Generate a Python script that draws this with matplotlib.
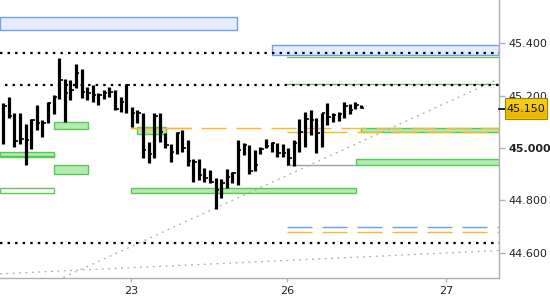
import matplotlib
matplotlib.use("Agg")
import matplotlib.pyplot as plt
from matplotlib.patches import Rectangle
import matplotlib.transforms as mtransforms

# ---------------- data ----------------
highs = [45.173, 45.196, 45.135, 45.135, 45.092, 45.111, 45.164, 45.107, 45.177, 45.203,
         45.343, 45.262, 45.260, 45.321, 45.302, 45.234, 45.241, 45.211, 45.222, 45.234,
         45.222, 45.196, 45.243, 45.156, 45.145, 45.135, 45.024, 45.133, 45.133, 45.056,
         45.014, 45.060, 45.069, 45.031, 44.958, 44.958, 44.922, 44.916, 44.884, 44.882,
         44.920, 44.907, 45.031, 45.018, 45.011, 44.992, 45.005, 45.033, 45.024, 45.020,
         45.015, 44.999, 45.031, 45.110, 45.136, 45.145, 45.113, 45.135, 45.171, 45.135,
         45.136, 45.175, 45.167, 45.175, 45.164]
lows = [45.015, 45.116, 45.005, 45.015, 44.935, 44.996, 45.069, 45.043, 45.097, 45.130,
        45.187, 45.100, 45.183, 45.228, 45.192, 45.183, 45.177, 45.164, 45.187, 45.196,
        45.145, 45.139, 45.133, 45.081, 45.094, 44.963, 44.944, 44.961, 45.024, 44.999,
        44.948, 44.977, 44.984, 44.929, 44.871, 44.878, 44.869, 44.865, 44.767, 44.810,
        44.846, 44.865, 44.859, 44.973, 44.901, 44.910, 44.977, 44.999, 44.986, 44.965,
        44.965, 44.935, 44.929, 44.986, 45.005, 45.050, 44.982, 45.005, 45.088, 45.100,
        45.103, 45.116, 45.129, 45.148, 45.152]
closes = [45.160, 45.122, 45.028, 45.033, 45.031, 45.107, 45.097, 45.097, 45.173, 45.196,
          45.260, 45.209, 45.222, 45.288, 45.215, 45.209, 45.203, 45.203, 45.209, 45.215,
          45.148, 45.177, 45.241, 45.133, 45.133, 44.992, 44.977, 45.120, 45.062, 45.011,
          44.984, 45.056, 45.001, 44.950, 44.945, 44.897, 44.884, 44.871, 44.840, 44.865,
          44.887, 44.903, 44.992, 45.011, 44.913, 44.935, 44.996, 45.008, 45.018, 44.981,
          44.981, 44.962, 45.020, 45.062, 45.110, 45.107, 45.056, 45.133, 45.118, 45.126,
          45.130, 45.160, 45.145, 45.164, 45.153]

day_ticks = [22.84, 50.75, 79.2]
day_labels = ["23", "26", "27"]
price_ticks = [45.4, 45.2, 45.0, 44.8, 44.6]
price_labels = ["45.400", "45.200", "45.000", "44.800", "44.600"]
last_price = 45.150
last_label = "45.150"

# blue zones: (x_start, x_end, y_low, y_high)
blue_zones = [(-0.59, 41.86, 45.450, 45.499), (48.0, 88.7, 45.355, 45.394)]
# green filled zones
green_zones = [(-0.59, 9.12, 44.968, 44.985), (9.07, 15.1, 44.900, 44.935),
               (22.84, 63.04, 44.827, 44.846), (9.07, 15.1, 45.073, 45.100),
               (23.97, 29.05, 45.055, 45.081), (63.04, 88.7, 44.935, 44.957),
               (64.0, 88.7, 45.061, 45.076)]
# green outlined zones
green_outline_zones = [(-0.59, 9.12, 44.964, 44.982), (-0.59, 9.12, 44.829, 44.846)]
# black dotted levels: (x_start, y)
black_levels = [(-0.59, 45.362), (0.3, 45.242), (-0.59, 44.638)]
# thin green levels
green_levels = [(50.75, 45.347), (50.75, 45.246)]
# gray solid segment
gray_seg = (50.75, 63.04, 44.935)
# orange dashed levels
orange_levels = [(22.84, 45.075), (50.75, 45.060), (50.75, 44.679)]
blue_dash_levels = [(50.75, 44.697)]
# gray dotted trend lines: (x0, y0, x1, y1)
trend_lines = [(10.73, 44.505, 88.27, 45.260), (-0.59, 44.519, 88.7, 44.608)]

XMIN, XMAX = -0.59, 88.7
YMIN, YMAX = 44.503, 45.565

# ---------------- figure ----------------
fig = plt.figure(figsize=(5.5, 3.0), dpi=100)
ax = fig.add_axes([0.0, 22 / 300, 499 / 550, 278 / 300])
ax.set_xlim(XMIN, XMAX)
ax.set_ylim(YMIN, YMAX)

for x0, x1, y0, y1 in blue_zones:
    ax.add_patch(Rectangle((x0, y0), x1 - x0, y1 - y0, facecolor="#e6ecfd",
                           edgecolor="#6f9ff0", lw=1.0, zorder=1))
for x0, x1, y0, y1 in green_outline_zones:
    ax.add_patch(Rectangle((x0, y0), x1 - x0, y1 - y0, facecolor="white",
                           edgecolor="#55c855", lw=1.0, zorder=1.2))
for x0, x1, y0, y1 in green_zones:
    ax.add_patch(Rectangle((x0, y0), x1 - x0, y1 - y0, facecolor="#b5ebb0",
                           edgecolor="#55c855", lw=1.0, zorder=1.3))

for x0, y in black_levels:
    ax.plot([x0, XMAX], [y, y], color="black", lw=1.6,
            linestyle=(0, (1.1, 2.3)), zorder=2)
for x0, y in green_levels:
    ax.plot([x0, XMAX], [y, y], color="#66bb66", lw=0.9, zorder=1.5)
ax.plot([gray_seg[0], gray_seg[1]], [gray_seg[2], gray_seg[2]], color="#a0a0a0",
        lw=1.0, zorder=1.5)
for x0, y in orange_levels:
    ax.plot([x0, XMAX], [y, y], color="#f8b828", lw=1.0,
            linestyle=(0, (18, 7.2)), zorder=1.6)
ax.plot([22.84, 33.5], [45.075, 45.075], color="#f8b828", lw=1.0, zorder=1.6)
for x0, y in blue_dash_levels:
    ax.plot([x0, XMAX], [y, y], color="#6d9eeb", lw=1.0,
            linestyle=(0, (18, 7.2)), zorder=1.6)
for x0, y0, x1, y1 in trend_lines:
    ax.plot([x0, x1], [y0, y1], color="#aaaaaa", lw=0.9,
            linestyle=(0, (1.5, 3.6)), zorder=1.7)

# HLC bars
idx = list(range(len(highs)))
ax.vlines(idx, lows, highs, color="black", lw=2.3, zorder=4)
ax.hlines(closes, [i for i in idx], [i + 0.62 for i in idx], color="black",
          lw=1.2, zorder=4)

# axes styling
for s in ["top", "left"]:
    ax.spines[s].set_visible(False)
for s in ["right", "bottom"]:
    ax.spines[s].set_color("#b0b0b0")
    ax.spines[s].set_linewidth(1.0)

ax.yaxis.tick_right()
ax.set_yticks(price_ticks)
ax.set_yticklabels(price_labels)
ax.set_xticks(day_ticks)
ax.set_xticklabels(day_labels)
ax.tick_params(axis="y", length=4, width=1, color="#b0b0b0", pad=3,
               labelsize=8, labelcolor="#222222")
ax.tick_params(axis="x", length=3, width=1, color="#b0b0b0", pad=3,
               labelsize=8, labelcolor="#222222")
for lab in ax.get_yticklabels():
    if lab.get_text() == "45.000":
        lab.set_fontweight("bold")

# last price marker
trans = mtransforms.blended_transform_factory(ax.transAxes, ax.transData)
ax.plot([1.0, 1.012], [last_price, last_price], color="black", lw=1.2,
        transform=trans, clip_on=False, zorder=6)
box_x0, box_x1 = 505 / 499, 547 / 499
ax.add_patch(Rectangle((box_x0, last_price - 0.039), box_x1 - box_x0, 0.078,
                       transform=trans, facecolor="#f6cc10", edgecolor="#9c7f10",
                       lw=0.8, clip_on=False, zorder=6.5))
ax.add_patch(Rectangle((box_x0 + 0.002, last_price - 0.036), box_x1 - box_x0 - 0.004, 0.036,
                       transform=trans, facecolor="#eab800", edgecolor="none",
                       clip_on=False, zorder=6.6))
ax.text((box_x0 + box_x1) / 2, last_price, last_label, transform=trans, fontsize=8,
        color="#111111", va="center", ha="center", clip_on=False, zorder=7)

fig.savefig("out.png", dpi=100)
